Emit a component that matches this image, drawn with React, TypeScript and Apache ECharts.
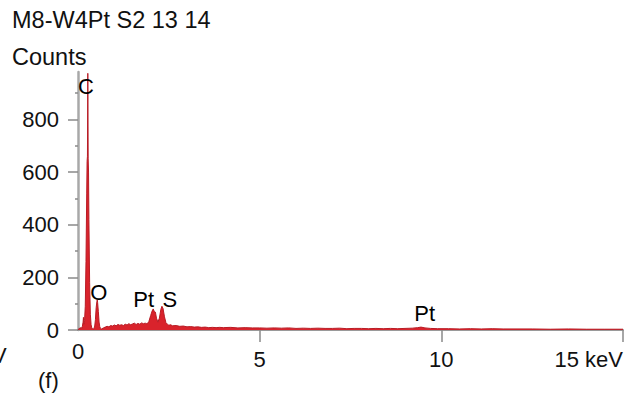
import React, { useEffect, useRef } from "react";
import * as echarts from "echarts";

// Spectrum (energy in keV, counts)
const energy = [
  0.0, 0.02, 0.04, 0.06, 0.08, 0.1, 0.12, 0.14, 0.15, 0.16, 0.18, 0.2, 0.22, 0.24, 0.25, 0.26, 0.27, 0.28, 0.29, 0.3,
  0.32, 0.34, 0.36, 0.38, 0.4, 0.42, 0.44, 0.46, 0.48, 0.5, 0.52, 0.53, 0.54, 0.56, 0.58, 0.6, 0.62, 0.65, 0.7, 0.75,
  0.8, 0.85, 0.9, 0.95, 1.0, 1.05, 1.1, 1.15, 1.2, 1.25, 1.3, 1.35, 1.4, 1.45, 1.5, 1.55, 1.6, 1.65, 1.7, 1.75,
  1.8, 1.85, 1.9, 1.95, 2.0, 2.04, 2.07, 2.1, 2.13, 2.16, 2.2, 2.24, 2.28, 2.31, 2.34, 2.38, 2.42, 2.46, 2.5, 2.55,
  2.6, 2.7, 2.8, 2.9, 3.0, 3.1, 3.2, 3.3, 3.4, 3.5, 3.6, 3.7, 3.8, 3.9, 4.0, 4.2, 4.4, 4.6, 4.8, 5.0,
  5.2, 5.4, 5.6, 5.8, 6.0, 6.2, 6.4, 6.6, 6.8, 7.0, 7.2, 7.4, 7.6, 7.8, 8.0, 8.2, 8.4, 8.6, 8.8, 9.0,
  9.2, 9.35, 9.44, 9.55, 9.7, 9.9, 10.2, 10.5, 10.8, 11.1, 11.4, 11.7, 12.0, 12.5, 13.0, 13.5, 14.0, 14.5, 15.0,
];
const counts = [
  0, 3, 8, 4, 10, 6, 14, 30, 48, 22, 35, 90, 260, 520, 640, 660, 975, 650, 600, 420,
  180, 60, 20, 8, 5, 4, 6, 15, 40, 85, 108, 114, 104, 70, 30, 12, 6, 4, 8, 11,
  14, 12, 17, 15, 19, 16, 21, 18, 20, 17, 22, 19, 24, 20, 23, 26, 21, 25, 22, 27,
  24, 26, 23, 32, 55, 72, 80, 70, 68, 45, 30, 45, 78, 90, 82, 50, 28, 22, 18, 20,
  16, 17, 14, 15, 12, 13, 11, 12, 10, 11, 9, 10, 9, 10, 9, 10, 8, 9, 8, 8,
  7, 8, 7, 8, 6, 7, 6, 7, 6, 6, 7, 5, 6, 6, 5, 6, 5, 6, 5, 6,
  7, 9, 11, 8, 6, 5, 5, 4, 5, 4, 5, 4, 4, 4, 3, 4, 3, 3, 3,
];

// Element annotations
const peakNames = ["C", "O", "Pt", "S", "Pt"];
const peakLabelX = [0.22, 0.57, 1.81, 2.53, 9.54];
const peakLabelY = [924, 144, 114, 114, 61];

// Axis ticks
const yTickValues = [0, 200, 400, 600, 800];
const xTickValues = [5, 10, 15];
const xLabelValues = [0, 5, 10, 15];

const FONT = "'Liberation Sans', Arial, Helvetica, sans-serif";

export default function App() {
  const ref = useRef<HTMLDivElement>(null);

  useEffect(() => {
    if (!ref.current) return;
    const chart = echarts.init(ref.current, null, { renderer: "svg" });
    const spectrum = energy.map((e, i) => [e, counts[i]]);
    const labels = peakNames.map((n, i) => ({ name: n, value: [peakLabelX[i], peakLabelY[i]] }));

    chart.setOption({
      animation: false,
      backgroundColor: "#ffffff",
      textStyle: { fontFamily: FONT },
      grid: { left: 78, right: 21, top: 72, bottom: 66, containLabel: false },
      xAxis: {
        type: "value",
        min: 0,
        max: 15,
        interval: 5,
        axisLine: { show: true, lineStyle: { color: "#9a9a9a", width: 2 } },
        axisTick: {
          show: true,
          length: 12,
          customValues: xTickValues,
          lineStyle: { color: "#8a8a8a", width: 1.5 },
        },
        axisLabel: {
          customValues: xLabelValues,
          margin: 10,
          color: "#111",
          fontSize: 22,
          fontFamily: FONT,
          alignMaxLabel: "right",
          formatter: (v: number) => (v === 0 ? "{z|0}" : v === 15 ? "{n|15 keV}" : "{n|" + v + "}"),
          rich: {
            z: { fontSize: 22, fontFamily: FONT, color: "#111" },
            n: { fontSize: 22, fontFamily: FONT, color: "#111", padding: [8, 0, 0, 0] },
          },
        },
        splitLine: { show: false },
      },
      yAxis: {
        type: "value",
        min: 0,
        max: 980,
        interval: 200,
        axisLine: { show: true, lineStyle: { color: "#a8a8a8", width: 2.5 } },
        axisTick: {
          show: true,
          length: 10,
          customValues: yTickValues,
          lineStyle: { color: "#8a8a8a", width: 1.5 },
        },
        minorTick: { show: true, splitNumber: 2, length: 3, lineStyle: { color: "#8a8a8a", width: 1.5 } },
        axisLabel: {
          customValues: yTickValues,
          margin: 19,
          color: "#111",
          fontSize: 22,
          fontFamily: FONT,
        },
        splitLine: { show: false },
      },
      graphic: [
        {
          type: "text",
          left: 12,
          top: 8,
          style: { text: "M8-W4Pt S2 13 14", fontSize: 23.5, fontFamily: FONT, fill: "#111" },
        },
        {
          type: "text",
          left: 12,
          top: 45,
          style: { text: "Counts", fontSize: 23.5, fontFamily: FONT, fill: "#111" },
        },
        {
          type: "text",
          left: 38,
          top: 369,
          style: { text: "(f)", fontSize: 22, fontFamily: FONT, fill: "#111" },
        },
        {
          type: "text",
          left: -8,
          top: 344,
          style: { text: "V", fontSize: 22, fontFamily: FONT, fill: "#111" },
        },
      ],
      series: [
        {
          type: "line",
          data: spectrum,
          showSymbol: false,
          symbol: "none",
          lineStyle: { color: "#b81c25", width: 1 },
          areaStyle: { color: "#d9232c", opacity: 1 },
          z: 3,
        },
        {
          type: "scatter",
          data: labels,
          symbolSize: 0,
          z: 5,
          itemStyle: { color: "#000" },
          label: {
            show: true,
            position: "inside",
            formatter: (p: any) => p.name,
            fontSize: 22,
            fontFamily: FONT,
            color: "#000",
            textBorderWidth: 0,
            opacity: 1,
          },
        },
      ],
    });

    return () => chart.dispose();
  }, []);

  return (
    <div
      ref={ref}
      style={{ position: "fixed", left: 0, top: 0, width: 644, height: 396, background: "#fff" }}
    />
  );
}
